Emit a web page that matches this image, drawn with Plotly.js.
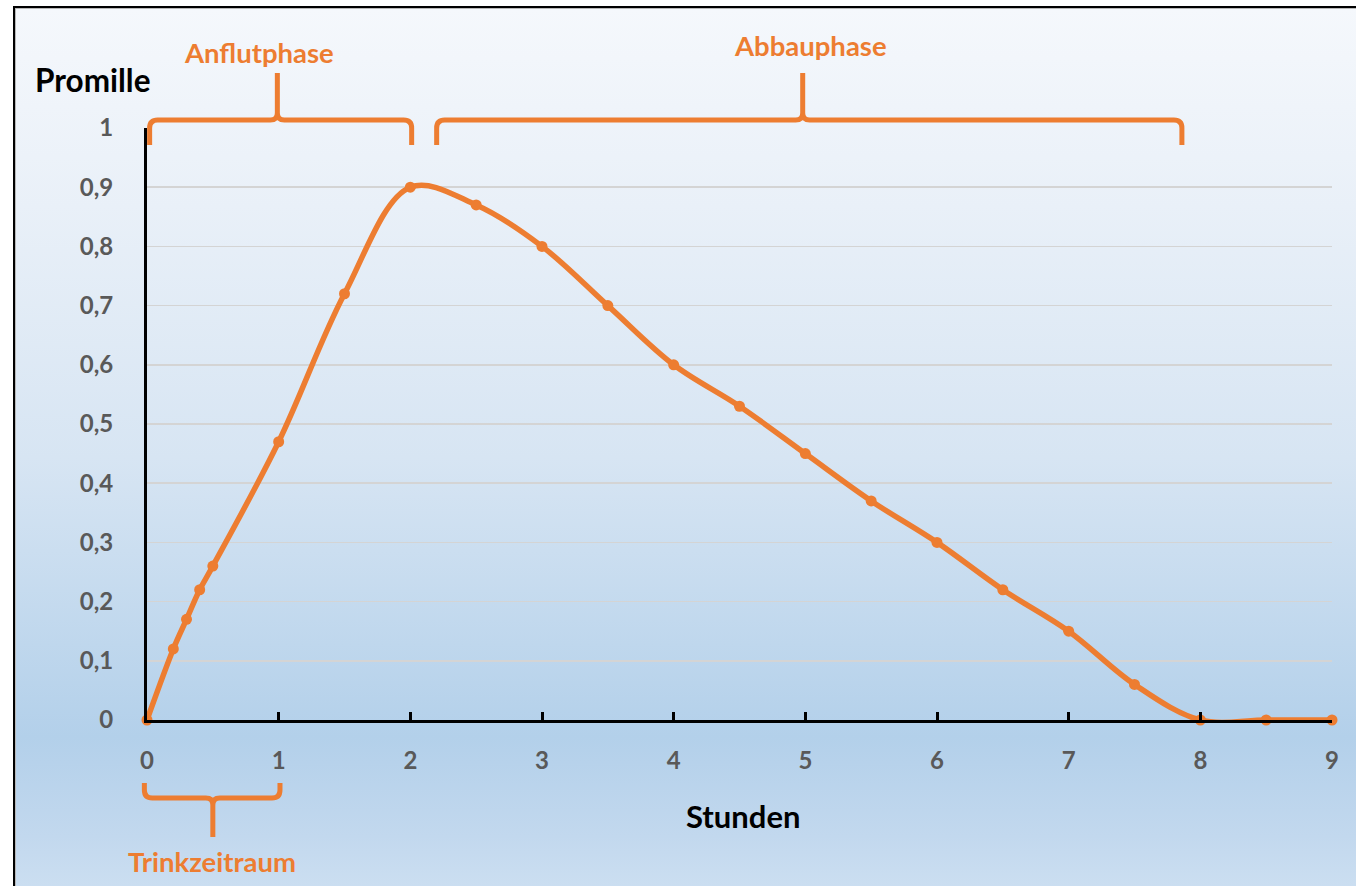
<!DOCTYPE html>
<html>
<head>
<meta charset="utf-8">
<script src="https://cdn.plot.ly/plotly-3.0.1.min.js"></script>
<style>
  html, body { margin: 0; padding: 0; background: #ffffff; overflow: hidden; }
  #frame {
    position: absolute; left: 13px; top: 6px; width: 1400px; height: 900px;
    border-top: 2px solid #000; border-left: 2px solid #000;
    box-shadow: inset 1px 1px 0 #b8b8b8;
    background: linear-gradient(to bottom, #f5f8fc 0%, #e9f0f8 22%, #d7e5f3 50%, #b3d0ea 81%, #c2d8ee 92%, #cfe1f2 100%);
  }
  #chart { position: absolute; left: 0; top: 0; width: 1356px; height: 886px; }
</style>
</head>
<body>
<div id="frame"></div>
<div id="chart"></div>
<script>
// ---- data ----
var hours    = [0, 0.2, 0.3, 0.4, 0.5, 1, 1.5, 2, 2.5, 3, 3.5, 4, 4.5, 5, 5.5, 6, 6.5, 7, 7.5, 8, 8.5, 9];
var promille = [0, 0.12, 0.17, 0.22, 0.26, 0.47, 0.72, 0.90, 0.87, 0.80, 0.70, 0.60, 0.53, 0.45, 0.37, 0.30, 0.22, 0.15, 0.06, 0, 0, 0];

var xTickVals = [0, 1, 2, 3, 4, 5, 6, 7, 8, 9];
var xTickText = ['0', '1', '2', '3', '4', '5', '6', '7', '8', '9'];
var yTickVals = [0, 0.1, 0.2, 0.3, 0.4, 0.5, 0.6, 0.7, 0.8, 0.9, 1];
var yTickText = ['0', '0,1', '0,2', '0,3', '0,4', '0,5', '0,6', '0,7', '0,8', '0,9', '1'];

// phase brackets (time ranges in hours)
var phaseNames = ['Anflutphase', 'Abbauphase', 'Trinkzeitraum'];
var phaseStart = [0.02, 2.2, -0.02];
var phaseEnd   = [2.01, 7.86, 1.01];
var phaseTip   = [0.99, 4.98, 0.5];

// ---- layout geometry ----
var W = 1356, H = 886;
var M = { l: 147, r: 24, t: 128, b: 166 };
var plotW = W - M.l - M.r, plotH = H - M.t - M.b;
var xRange = [0, 9], yRange = [0, 1];
var ORANGE = '#ED7D31';
var FONT = 'Lato, "Open Sans", sans-serif';

function xp(v) { return (v - xRange[0]) / (xRange[1] - xRange[0]); }
function yp(v) { return (v - yRange[0]) / (yRange[1] - yRange[0]); }
function pxX(px) { return (px - M.l) / plotW; }          // page px -> paper x
function pxY(px) { return (H - M.b - px) / plotH; }      // page px -> paper y
function dX(px) { return px / plotW; }
function dY(px) { return px / plotH; }

// brace path: level given in page px, dir +1 = tip up, -1 = tip down
function bracePath(x0v, x1v, xtv, levelPx, dir, armPx, tipPx) {
  var x0 = xp(x0v), x1 = xp(x1v), xt = xp(xtv), L = pxY(levelPx);
  var rc = 8, rt = 7;
  var arm = L - dir * dY(armPx), tip = L + dir * dY(tipPx);
  var f = function (a, b) { return a.toFixed(5) + ',' + b.toFixed(5); };
  return 'M' + f(x0, arm) +
    ' L' + f(x0, L - dir * dY(rc)) +
    ' Q' + f(x0, L) + ' ' + f(x0 + dX(rc), L) +
    ' L' + f(xt - dX(rt), L) +
    ' Q' + f(xt, L) + ' ' + f(xt, L + dir * dY(rt)) +
    ' L' + f(xt, tip) +
    ' M' + f(xt, L + dir * dY(rt)) +
    ' Q' + f(xt, L) + ' ' + f(xt + dX(rt), L) +
    ' L' + f(x1 - dX(rc), L) +
    ' Q' + f(x1, L) + ' ' + f(x1, L - dir * dY(rc)) +
    ' L' + f(x1, arm);
}

var braceLevelPx = [120, 120, 798];
var braceDir = [1, 1, -1];
var braceArm = [25, 25, 15];
var braceTipLen = [47, 47, 39];
var labelPos = [[259, 53], [811, 46], [212, 861]];

var shapes = [], annotations = [];
for (var i = 0; i < phaseNames.length; i++) {
  shapes.push({
    type: 'path', xref: 'paper', yref: 'paper', layer: 'above',
    path: bracePath(phaseStart[i], phaseEnd[i], phaseTip[i], braceLevelPx[i], braceDir[i], braceArm[i], braceTipLen[i]),
    line: { color: ORANGE, width: 5 }
  });
  annotations.push({
    xref: 'paper', yref: 'paper', x: pxX(labelPos[i][0]), y: pxY(labelPos[i][1]),
    xanchor: 'center', yanchor: 'middle', showarrow: false,
    text: '<b>' + phaseNames[i] + '</b>',
    font: { family: FONT, size: 27.5, color: ORANGE }
  });
}
annotations.push({
  xref: 'paper', yref: 'paper', x: pxX(93), y: pxY(80), xanchor: 'center', yanchor: 'middle',
  showarrow: false, text: '<b>Promille</b>', font: { family: FONT, size: 31.5, color: '#000' }
});
annotations.push({
  xref: 'paper', yref: 'paper', x: pxX(743), y: pxY(816), xanchor: 'center', yanchor: 'middle',
  showarrow: false, text: '<b>Stunden</b>', font: { family: FONT, size: 31, color: '#000' }
});

var trace = {
  x: hours, y: promille, type: 'scatter', mode: 'lines+markers',
  line: { color: ORANGE, width: 5.5, shape: 'spline', smoothing: 1 },
  marker: { color: ORANGE, size: 11 },
  cliponaxis: false, hoverinfo: 'x+y'
};

var layout = {
  width: W, height: H, margin: M,
  paper_bgcolor: 'rgba(0,0,0,0)', plot_bgcolor: 'rgba(0,0,0,0)',
  showlegend: false,
  font: { family: FONT },
  xaxis: {
    range: xRange, tickmode: 'array', tickvals: xTickVals, ticktext: xTickText,
    showgrid: false, zeroline: false,
    showline: true, linecolor: '#000', linewidth: 3,
    ticks: 'inside', ticklen: 8, tickwidth: 3, tickcolor: '#000',
    ticklabelstandoff: 17,
    tickfont: { family: FONT, size: 24, color: '#595959', weight: 'bold' },
    fixedrange: true
  },
  yaxis: {
    range: yRange, tickmode: 'array', tickvals: yTickVals, ticktext: yTickText,
    showgrid: true, gridcolor: '#d4d4d4', gridwidth: 1.5, zeroline: false,
    showline: true, linecolor: '#000', linewidth: 3,
    ticks: '', ticklabelstandoff: 26,
    tickfont: { family: FONT, size: 24, color: '#595959', weight: 'bold' },
    fixedrange: true
  },
  shapes: shapes,
  annotations: annotations
};

Plotly.newPlot('chart', [trace], layout, { displayModeBar: false, staticPlot: true });
</script>
</body>
</html>
